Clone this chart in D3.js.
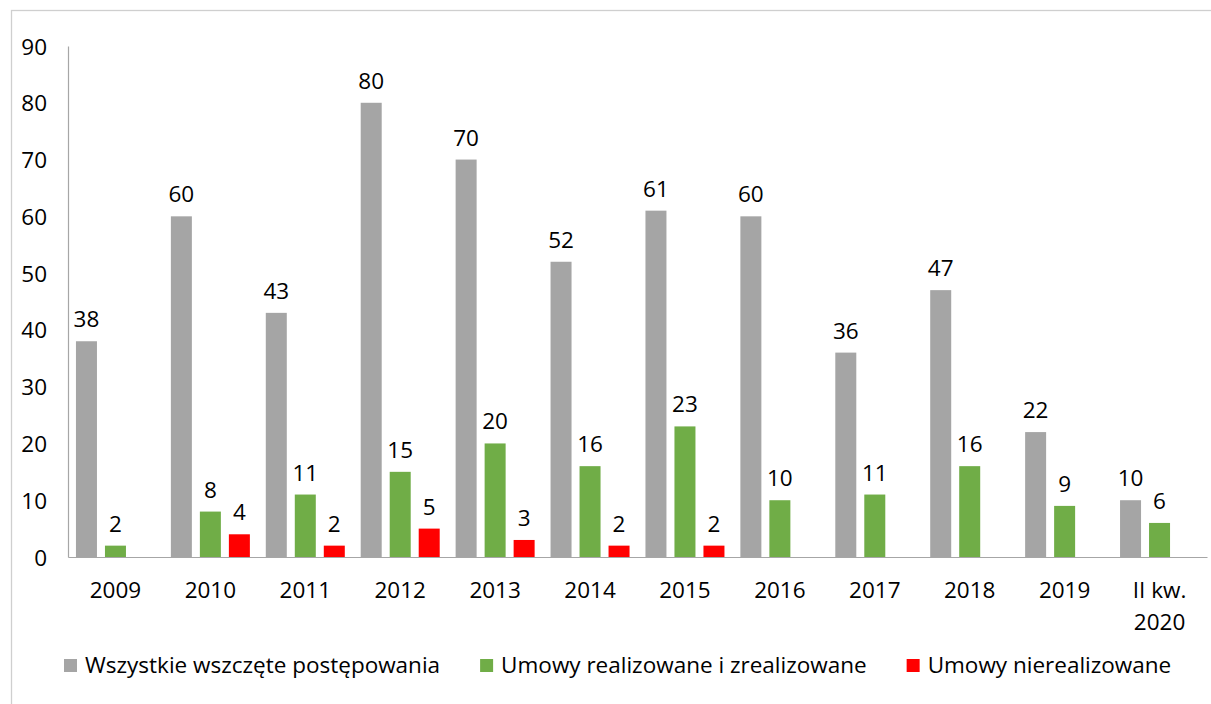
<!DOCTYPE html>
<html>
<head>
<meta charset="utf-8">
<script src="https://cdn.jsdelivr.net/npm/d3@7"></script>
<style>
  html, body { margin: 0; padding: 0; background: #fff; }
  svg { display: block; font-family: "Open Sans", sans-serif; }
</style>
</head>
<body>
<svg id="chart" width="1211" height="704"></svg>
<script>
const categories = ["2009","2010","2011","2012","2013","2014","2015","2016","2017","2018","2019","II kw.\n2020"];
const seriesNames = ["Wszystkie wszczęte postępowania","Umowy realizowane i zrealizowane","Umowy nierealizowane"];
const allProceedings = [38,60,43,80,70,52,61,60,36,47,22,10];
const contractsRealized = [2,8,11,15,20,16,23,10,11,16,9,6];
const contractsNotRealized = [null,4,2,5,3,2,2,null,null,null,null,null];
const yTicks = [0,10,20,30,40,50,60,70,80,90];
const colors = ["#A5A5A5","#70AD47","#FF0000"];

const seriesValues = [allProceedings, contractsRealized, contractsNotRealized];
const svg = d3.select("#chart");
const FS = 22.5;
const FONT = "Open Sans";

// frame
svg.append("rect").attr("x",11.5).attr("y",10.5).attr("width",1220).attr("height",720)
  .attr("fill","none").attr("stroke","#CFCFCF").attr("stroke-width",1.3);

const x0 = d3.scaleBand().domain(categories).range([68, 1207]).padding(0);
const groupW = 79;
const x1 = d3.scaleBand().domain(seriesNames)
  .range([(x0.bandwidth()-groupW)/2, (x0.bandwidth()+groupW)/2])
  .paddingInner(8/29).paddingOuter(0);
const y = d3.scaleLinear().domain([0,90]).range([557,46]);

// y axis
const yAxis = svg.append("g").attr("transform","translate(68,0)")
  .call(d3.axisLeft(y).tickValues(yTicks).tickSize(0).tickPadding(21));
yAxis.select(".domain").attr("stroke","#A6A6A6").attr("stroke-width",1.2);
yAxis.selectAll("text").attr("font-size",FS).attr("fill","#000").attr("font-family",FONT).attr("dy","0.36em");

// x axis
const xAxis = svg.append("g").attr("transform","translate(0,557)")
  .call(d3.axisBottom(x0).tickSize(0).tickFormat(""));
xAxis.select(".domain").attr("stroke","#A6A6A6").attr("stroke-width",1.2);
xAxis.selectAll(".tick").each(function(d){
  const lines = d.split("\n");
  const t = d3.select(this).append("text").attr("fill","#000").attr("font-size",FS)
    .attr("text-anchor","middle").attr("font-family",FONT);
  lines.forEach((l,i)=> t.append("tspan").attr("x",0).attr("y",41 + i*32).text(l));
});

// bars
seriesNames.forEach((s, si) => {
  const data = categories.map((c, ci) => ({c, v: seriesValues[si][ci]})).filter(d => d.v != null);
  const g = svg.append("g");
  g.selectAll("rect").data(data).join("rect")
    .attr("x", d => x0(d.c) + x1(s))
    .attr("y", d => y(d.v))
    .attr("width", x1.bandwidth())
    .attr("height", d => y(0) - y(d.v))
    .attr("fill", colors[si]);
  g.selectAll("text").data(data).join("text")
    .attr("x", d => x0(d.c) + x1(s) + x1.bandwidth()/2)
    .attr("y", d => y(d.v) - 14)
    .attr("text-anchor","middle").attr("font-size",FS).attr("fill","#000")
    .attr("font-family",FONT)
    .text(d => d.v);
});

// legend
const legend = svg.append("g");
let lx = 64;
seriesNames.forEach((s, i) => {
  const item = legend.append("g").attr("transform", `translate(${lx},0)`);
  item.append("rect").attr("x",0).attr("y",659).attr("width",13).attr("height",13).attr("fill",colors[i]);
  const t = item.append("text").attr("x",21).attr("y",673).attr("font-size",FS).attr("fill","#000")
    .attr("font-family",FONT).text(s);
  const w = t.node().getComputedTextLength();
  lx += 21 + w + 40;
});
</script>
</body>
</html>
